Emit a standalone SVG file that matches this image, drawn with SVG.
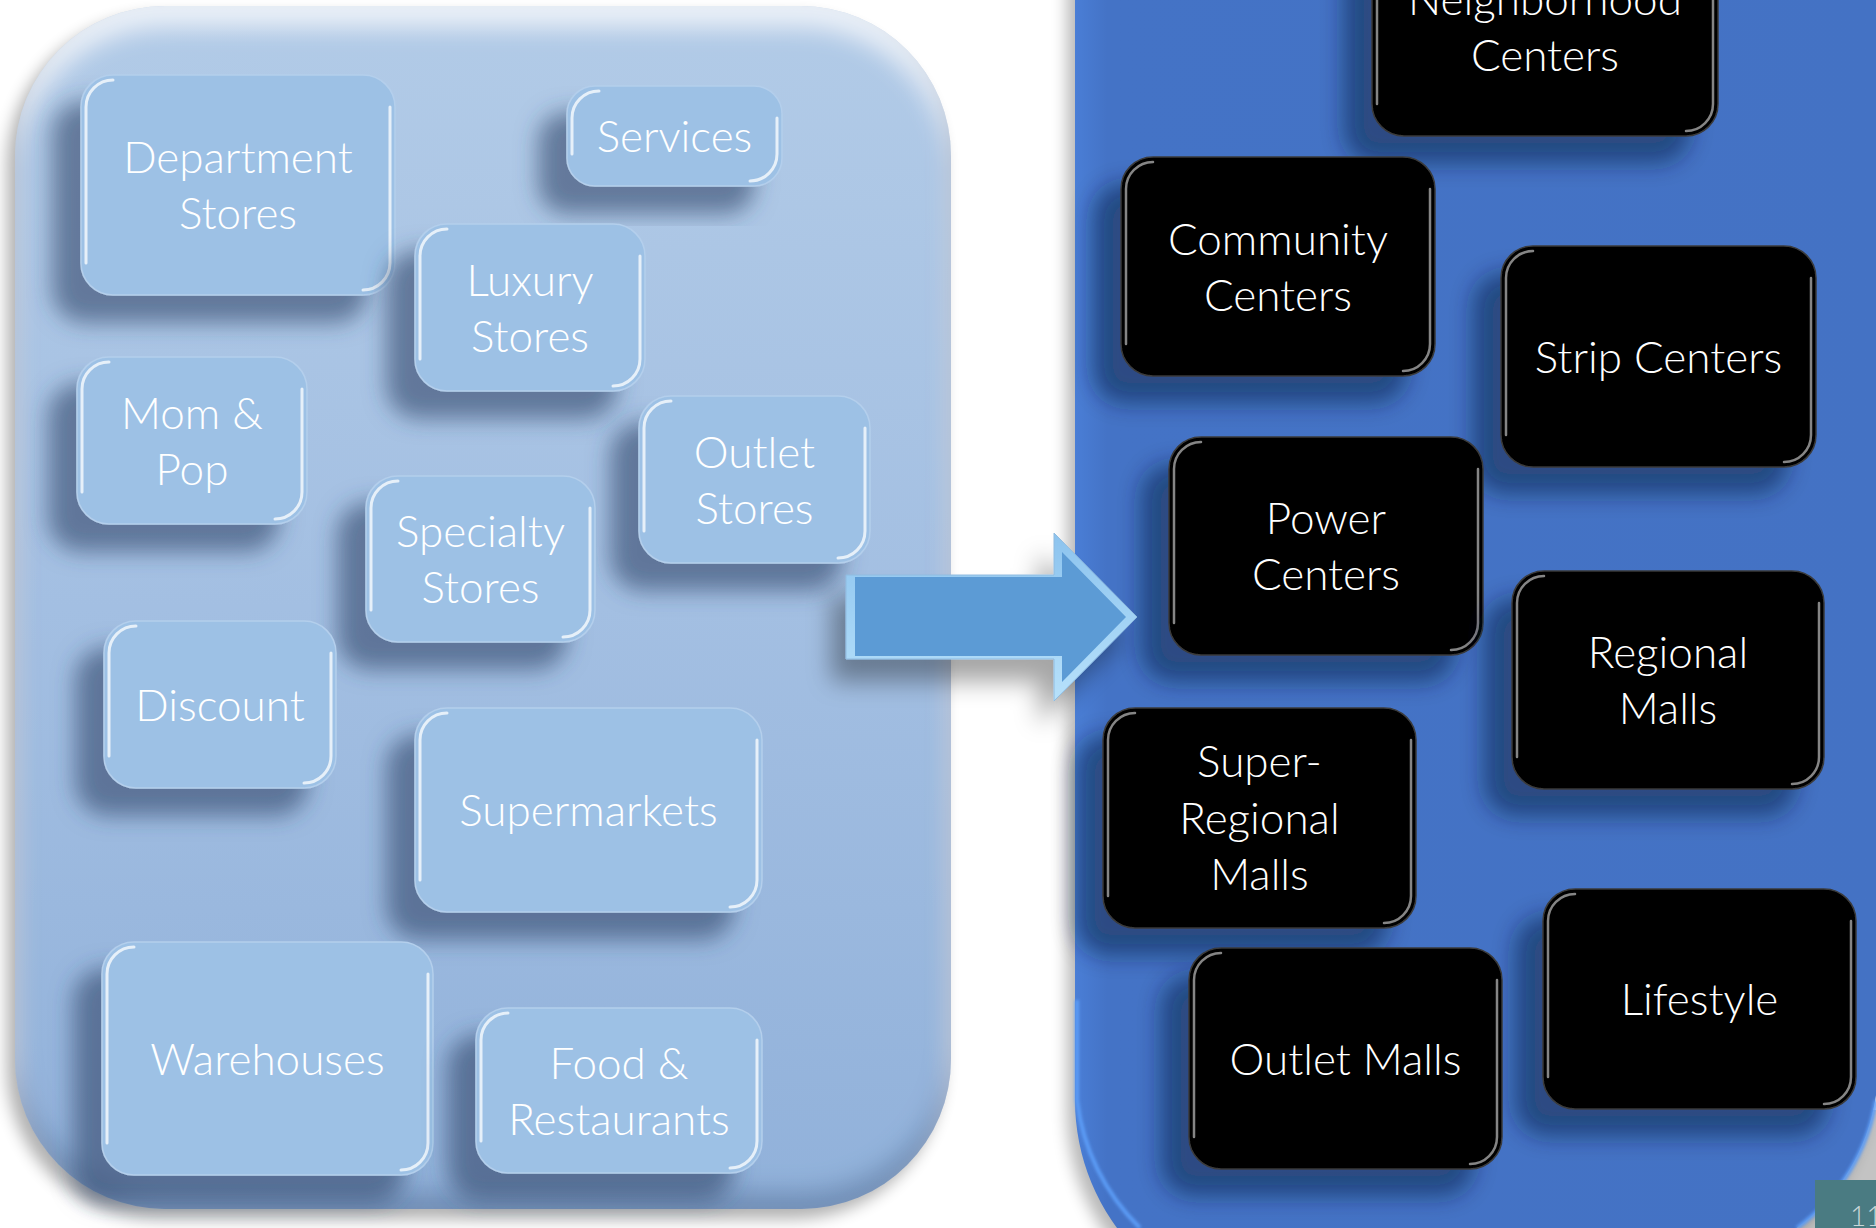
<svg xmlns="http://www.w3.org/2000/svg" width="1876" height="1228" viewBox="0 0 1876 1228">
  <defs>
    <style>
      .t { font-family: Lato, "Open Sans", "Liberation Sans", sans-serif; font-size: 44px; font-weight: 300; fill: #ffffff; text-anchor: middle; }
      .boxL { fill: #9dc1e5; stroke: #b4cfec; stroke-width: 1.5; }
      .boxD { fill: #000000; stroke: #3a3a3a; stroke-width: 1.5; }
      .glL { fill: none; stroke: #ffffff; stroke-width: 3; stroke-opacity: 0.75; stroke-linecap: round; }
      .glD { fill: none; stroke: #bdbdbd; stroke-width: 2.5; stroke-opacity: 0.7; stroke-linecap: round; }
      .pg { font-family: Lato, "Liberation Sans", sans-serif; font-size: 28px; font-weight: 300; fill: #c9d6d8; }
    </style>
    <linearGradient id="fillLeftPanel" x1="0" y1="0" x2="0" y2="1">
      <stop offset="0" stop-color="#b2cbe7"/>
      <stop offset="0.5" stop-color="#a3bfe2"/>
      <stop offset="1" stop-color="#91b1da"/>
    </linearGradient>
    <linearGradient id="fillRightPanel" x1="0" y1="0" x2="1" y2="0">
      <stop offset="0" stop-color="#4a7ed6"/>
      <stop offset="0.04" stop-color="#4473c6"/>
      <stop offset="1" stop-color="#4472c4"/>
    </linearGradient>
    <linearGradient id="fillArrowRim" x1="0" y1="0" x2="0" y2="1">
      <stop offset="0" stop-color="#8cc3ee"/>
      <stop offset="1" stop-color="#b7e1fb"/>
    </linearGradient>
    <!-- soft bevel for the large panels: light top rim, dark bottom rim -->
    <filter id="bevelPanel" x="-5%" y="-5%" width="110%" height="110%">
      <feGaussianBlur in="SourceAlpha" stdDeviation="12" result="blur"/>
      <feOffset in="blur" dy="20" result="down"/>
      <feComposite in="SourceAlpha" in2="down" operator="out" result="topRim"/>
      <feFlood flood-color="#ffffff" flood-opacity="0.7"/>
      <feComposite in2="topRim" operator="in" result="hi"/>
      <feOffset in="blur" dy="-18" result="up"/>
      <feComposite in="SourceAlpha" in2="up" operator="out" result="botRim"/>
      <feFlood flood-color="#3d5b86" flood-opacity="0.5"/>
      <feComposite in2="botRim" operator="in" result="lo"/>
      <feMerge><feMergeNode in="SourceGraphic"/><feMergeNode in="hi"/><feMergeNode in="lo"/></feMerge>
    </filter>
    <filter id="panelShadow" x="-10%" y="-10%" width="120%" height="120%">
      <feGaussianBlur stdDeviation="8"/>
    </filter>
    <!-- node drop shadows, cast down and to the left -->
    <filter id="shL" x="-30%" y="-30%" width="160%" height="170%">
      <feGaussianBlur in="SourceAlpha" stdDeviation="11" result="b"/>
      <feOffset in="b" dx="-28" dy="27" result="o"/>
      <feFlood flood-color="#31466a" flood-opacity="0.6"/>
      <feComposite in2="o" operator="in" result="s"/>
      <feMerge><feMergeNode in="s"/><feMergeNode in="SourceGraphic"/></feMerge>
    </filter>
    <filter id="shD" x="-30%" y="-30%" width="160%" height="170%">
      <feGaussianBlur in="SourceAlpha" stdDeviation="11" result="b"/>
      <feOffset in="b" dx="-28" dy="27" result="o"/>
      <feFlood flood-color="#0d1f40" flood-opacity="0.5"/>
      <feComposite in2="o" operator="in" result="s"/>
      <feMerge><feMergeNode in="s"/><feMergeNode in="SourceGraphic"/></feMerge>
    </filter>
    <filter id="shArrow" x="-30%" y="-40%" width="160%" height="180%">
      <feGaussianBlur in="SourceAlpha" stdDeviation="12" result="b"/>
      <feOffset in="b" dx="-14" dy="22" result="o"/>
      <feFlood flood-color="#000000" flood-opacity="0.35"/>
      <feComposite in2="o" operator="in" result="s"/>
      <feMerge><feMergeNode in="s"/><feMergeNode in="SourceGraphic"/></feMerge>
    </filter>
    <filter id="soft" x="-5%" y="-5%" width="110%" height="110%">
      <feGaussianBlur stdDeviation="1.5"/>
    </filter>
  </defs>

  <rect width="1876" height="1228" fill="#ffffff"/>
  <!-- grey backdrop in the bottom right corner -->
  <rect x="1770" y="1110" width="106" height="118" fill="#c3c3c3"/>

  <!-- left panel: store types -->
  <g id="panel-stores">
    <rect x="7" y="16" width="936" height="1203" rx="150" fill="#000000" opacity="0.3" filter="url(#panelShadow)"/>
    <rect x="15" y="6" width="936" height="1203" rx="150" fill="url(#fillLeftPanel)" filter="url(#bevelPanel)"/>
  </g>

  <!-- right panel: shopping center types -->
  <g id="panel-centers">
    <path d="M1067,-40 H1870 V1077 A200,200 0 0 1 1670,1277 L1283,1326 A216,216 0 0 1 1067,1110 Z" fill="#000000" opacity="0.28" filter="url(#panelShadow)"/>
    <path d="M1075,-50 H1878 V1067 A200,200 0 0 1 1678,1267 L1291,1316 A216,216 0 0 1 1075,1100 Z" fill="url(#fillRightPanel)"/>
    <path d="M1077,1000 V1100 A214,214 0 0 0 1140,1228 M1797,1228 A198,198 0 0 0 1876,1100" fill="none" stroke="#5c9cf6" stroke-width="4" filter="url(#soft)"/>
  </g>

  <!-- store type nodes -->
  <g id="store-types">
    <g id="node-department-stores">
      <rect class="boxL" x="81" y="75" width="314" height="220" rx="32" filter="url(#shL)"/>
      <path class="glL" d="M86,263 V107 A27,27 0 0 1 113,80 M390,107 V263 A27,27 0 0 1 363,290"/>
      <text class="t" x="238" y="173">Department</text>
      <text class="t" x="238" y="229">Stores</text>
    </g>
    <g id="node-services">
      <rect class="boxL" x="567" y="86" width="215" height="100" rx="28" filter="url(#shL)"/>
      <path class="glL" d="M572,154 V118 A27,27 0 0 1 599,91 M777,118 V154 A27,27 0 0 1 750,181"/>
      <text class="t" x="674.5" y="152">Services</text>
    </g>
    <g id="node-luxury-stores">
      <rect class="boxL" x="415" y="224" width="230" height="167" rx="32" filter="url(#shL)"/>
      <path class="glL" d="M420,359 V256 A27,27 0 0 1 447,229 M640,256 V359 A27,27 0 0 1 613,386"/>
      <text class="t" x="530" y="295.5">Luxury</text>
      <text class="t" x="530" y="351.5">Stores</text>
    </g>
    <g id="node-mom-and-pop">
      <rect class="boxL" x="77" y="357" width="230" height="167" rx="32" filter="url(#shL)"/>
      <path class="glL" d="M82,492 V389 A27,27 0 0 1 109,362 M302,389 V492 A27,27 0 0 1 275,519"/>
      <text class="t" x="192" y="428.5">Mom &amp;</text>
      <text class="t" x="192" y="484.5">Pop</text>
    </g>
    <g id="node-outlet-stores">
      <rect class="boxL" x="639" y="396" width="231" height="167" rx="32" filter="url(#shL)"/>
      <path class="glL" d="M644,531 V428 A27,27 0 0 1 671,401 M865,428 V531 A27,27 0 0 1 838,558"/>
      <text class="t" x="754.5" y="467.5">Outlet</text>
      <text class="t" x="754.5" y="523.5">Stores</text>
    </g>
    <g id="node-specialty-stores">
      <rect class="boxL" x="366" y="476" width="229" height="166" rx="32" filter="url(#shL)"/>
      <path class="glL" d="M371,610 V508 A27,27 0 0 1 398,481 M590,508 V610 A27,27 0 0 1 563,637"/>
      <text class="t" x="480.5" y="547">Specialty</text>
      <text class="t" x="480.5" y="603">Stores</text>
    </g>
    <g id="node-discount">
      <rect class="boxL" x="104" y="621" width="232" height="167" rx="32" filter="url(#shL)"/>
      <path class="glL" d="M109,756 V653 A27,27 0 0 1 136,626 M331,653 V756 A27,27 0 0 1 304,783"/>
      <text class="t" x="220" y="720.5">Discount</text>
    </g>
    <g id="node-supermarkets">
      <rect class="boxL" x="415" y="708" width="347" height="204" rx="32" filter="url(#shL)"/>
      <path class="glL" d="M420,880 V740 A27,27 0 0 1 447,713 M757,740 V880 A27,27 0 0 1 730,907"/>
      <text class="t" x="588.5" y="826">Supermarkets</text>
    </g>
    <g id="node-warehouses">
      <rect class="boxL" x="102" y="942" width="331" height="233" rx="32" filter="url(#shL)"/>
      <path class="glL" d="M107,1143 V974 A27,27 0 0 1 134,947 M428,974 V1143 A27,27 0 0 1 401,1170"/>
      <text class="t" x="267.5" y="1074.5">Warehouses</text>
    </g>
    <g id="node-food-restaurants">
      <rect class="boxL" x="476" y="1008" width="286" height="165" rx="32" filter="url(#shL)"/>
      <path class="glL" d="M481,1141 V1040 A27,27 0 0 1 508,1013 M757,1040 V1141 A27,27 0 0 1 730,1168"/>
      <text class="t" x="619" y="1078.5">Food &amp;</text>
      <text class="t" x="619" y="1134.5">Restaurants</text>
    </g>
  </g>

  <!-- shopping center type nodes -->
  <g id="center-types">
    <g id="node-neighborhood-centers">
      <rect class="boxD" x="1372" y="-82" width="346" height="218" rx="32" filter="url(#shD)"/>
      <path class="glD" d="M1377,104 V-50 A27,27 0 0 1 1404,-77 M1713,-50 V104 A27,27 0 0 1 1686,131"/>
      <text class="t" x="1545" y="15">Neighborhood</text>
      <text class="t" x="1545" y="71">Centers</text>
    </g>
    <g id="node-community-centers">
      <rect class="boxD" x="1121" y="157" width="314" height="219" rx="32" filter="url(#shD)"/>
      <path class="glD" d="M1126,344 V189 A27,27 0 0 1 1153,162 M1430,189 V344 A27,27 0 0 1 1403,371"/>
      <text class="t" x="1278" y="254.5">Community</text>
      <text class="t" x="1278" y="310.5">Centers</text>
    </g>
    <g id="node-strip-centers">
      <rect class="boxD" x="1501" y="246" width="315" height="221" rx="32" filter="url(#shD)"/>
      <path class="glD" d="M1506,435 V278 A27,27 0 0 1 1533,251 M1811,278 V435 A27,27 0 0 1 1784,462"/>
      <text class="t" x="1658.5" y="372.5">Strip Centers</text>
    </g>
    <g id="node-power-centers">
      <rect class="boxD" x="1169" y="437" width="314" height="218" rx="32" filter="url(#shD)"/>
      <path class="glD" d="M1174,623 V469 A27,27 0 0 1 1201,442 M1478,469 V623 A27,27 0 0 1 1451,650"/>
      <text class="t" x="1326" y="534">Power</text>
      <text class="t" x="1326" y="590">Centers</text>
    </g>
    <g id="node-regional-malls">
      <rect class="boxD" x="1512" y="571" width="312" height="218" rx="32" filter="url(#shD)"/>
      <path class="glD" d="M1517,757 V603 A27,27 0 0 1 1544,576 M1819,603 V757 A27,27 0 0 1 1792,784"/>
      <text class="t" x="1668" y="668">Regional</text>
      <text class="t" x="1668" y="724">Malls</text>
    </g>
    <g id="node-super-regional-malls">
      <rect class="boxD" x="1103" y="708" width="313" height="220" rx="32" filter="url(#shD)"/>
      <path class="glD" d="M1108,896 V740 A27,27 0 0 1 1135,713 M1411,740 V896 A27,27 0 0 1 1384,923"/>
      <text class="t" x="1259.5" y="777">Super-</text>
      <text class="t" x="1259.5" y="834">Regional</text>
      <text class="t" x="1259.5" y="890">Malls</text>
    </g>
    <g id="node-lifestyle">
      <rect class="boxD" x="1543" y="889" width="313" height="220" rx="32" filter="url(#shD)"/>
      <path class="glD" d="M1548,1077 V921 A27,27 0 0 1 1575,894 M1851,921 V1077 A27,27 0 0 1 1824,1104"/>
      <text class="t" x="1699.5" y="1015">Lifestyle</text>
    </g>
    <g id="node-outlet-malls">
      <rect class="boxD" x="1189" y="948" width="313" height="221" rx="32" filter="url(#shD)"/>
      <path class="glD" d="M1194,1137 V980 A27,27 0 0 1 1221,953 M1497,980 V1137 A27,27 0 0 1 1470,1164"/>
      <text class="t" x="1345.5" y="1074.5">Outlet Malls</text>
    </g>
  </g>

  <!-- block arrow between the panels -->
  <g id="connectors">
    <g filter="url(#shArrow)">
      <path d="M846,575 H1054 V533 L1137,617 L1054,701 V659 H846 Z" fill="url(#fillArrowRim)" stroke="#8fbbe0" stroke-width="1"/>
      <path d="M855,577 H1062 V552 L1126,617 L1062,682 V656 H855 Z" fill="#5b9bd5"/>
    </g>
  </g>

  <!-- slide number tab -->
  <g id="page-number">
    <rect x="1815" y="1180" width="61" height="48" fill="#4a7b82"/>
    <text class="pg" x="1850" y="1226">11</text>
  </g>
</svg>
